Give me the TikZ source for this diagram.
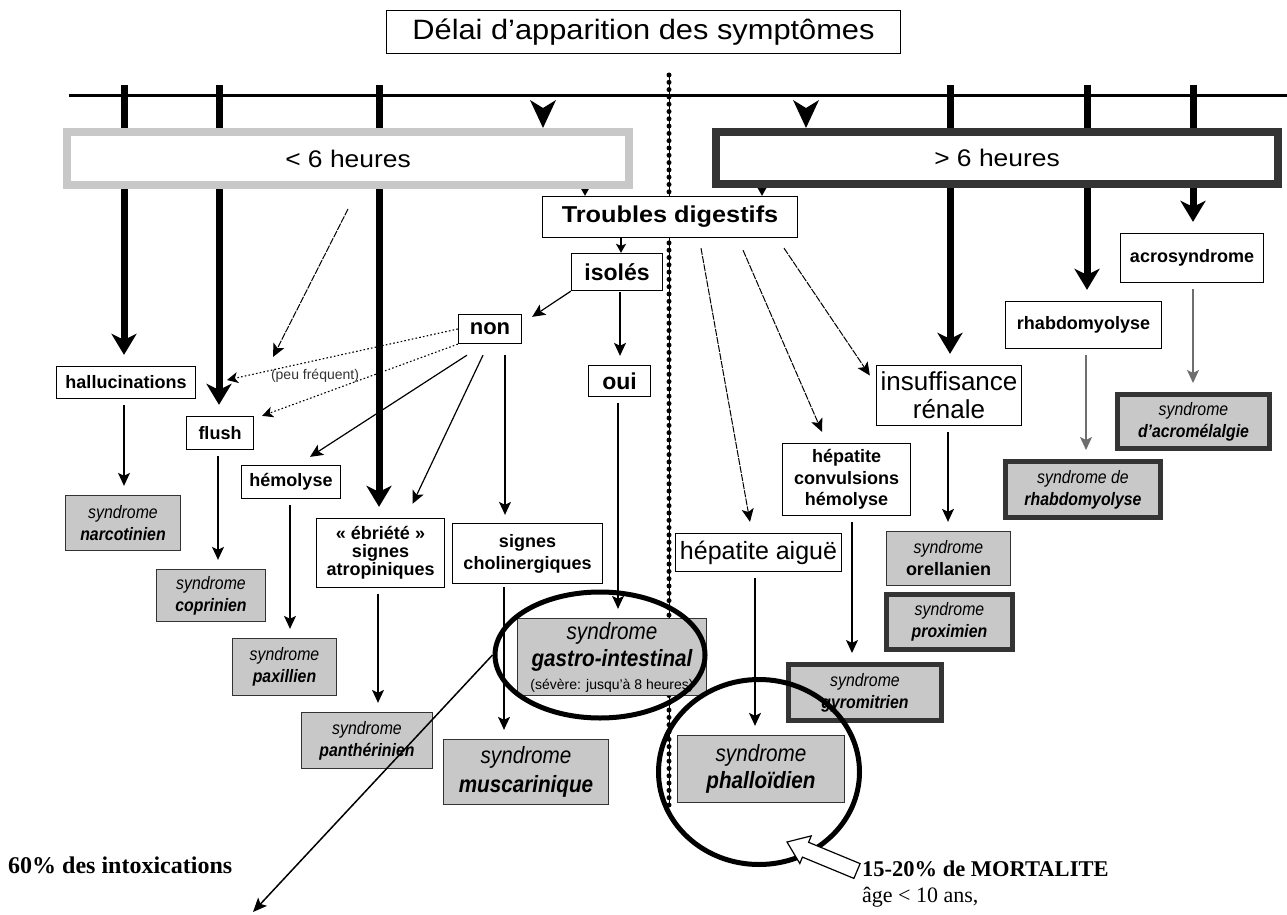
\documentclass[tikz,border=0pt]{standalone}
\usepackage{fontspec}
\setmainfont{Liberation Serif}
\newfontfamily\arialf{Liberation Sans}
\newfontfamily\arialw[FakeStretch=1.1]{Liberation Sans}
\newfontfamily\arialn[FakeStretch=0.88]{Liberation Sans}
\usetikzlibrary{arrows.meta,backgrounds,calc,shapes.geometric}
\definecolor{synfill}{RGB}{200,200,200}
\definecolor{darkedge}{RGB}{52,52,52}
\definecolor{lightedge}{RGB}{200,200,200}
\definecolor{softline}{RGB}{110,110,110}
\newcommand\fsz[2]{\fontsize{#1}{#2}\selectfont}

\begin{document}
\begin{tikzpicture}[x=1pt,y=-1pt,
  wh/.style 2 args={minimum width=#1pt,minimum height=#2pt},
  box/.style={draw,line width=1.3pt,fill=white,inner sep=0pt,align=center,font=\arialf\bfseries\fsz{18}{21}},
  syn/.style={draw=black!80,line width=1.3pt,fill=synfill,inner sep=0pt,align=center,font=\arialn\itshape\fsz{18}{22}},
  syndark/.style={syn,draw=darkedge,line width=5pt},
  period/.style={fill=white,inner sep=0pt,align=center,font=\arialw\fsz{24}{26}},
  conn/.style={line width=1.2pt,-{Stealth[length=13pt,width=12pt,inset=3pt]},shorten <=6pt,shorten >=9pt},
  slant/.style={line width=1.2pt,-{Stealth[length=13pt,width=12pt,inset=3pt]}},
  fine/.style={slant,line width=1pt,dash pattern=on 7pt off 1.2pt},
  rare/.style={line width=1.1pt,dash pattern=on 1.6pt off 2.2pt,-{Stealth[length=11pt,width=11pt,inset=3pt]}},
  bigarrow/.style={line width=7pt,-{Stealth[length=21pt,width=25pt,inset=6pt]},shorten >=11pt},
  tiny/.style={line width=1.5pt,-{Stealth[length=9pt,width=10pt,inset=2pt]}},
  ring/.style={draw,ellipse,line width=5pt,inner sep=0pt},
]
\useasboundingbox (0,0) rectangle (1287,915);

% ---- header ----
\node[box,font=\arialw\fsz{28}{30},wh={514}{43}] (title) at (643.5,32) {Délai d’apparition des symptômes};
\node[period,draw=lightedge,line width=8pt,wh={562}{53}] (lt6) at (348,158.5) {< 6 heures};
\node[period,draw=darkedge,line width=8pt,wh={562}{52}] (gt6) at (997,158) {> 6 heures};

% ---- clinical signs ----
\node[box,font=\arialw\bfseries\fsz{23}{26},wh={255}{41}] (troubles) at (670,217) {Troubles digestifs};
\node[box,font=\arialf\bfseries\fsz{23}{26},wh={91}{37}] (isoles) at (617,272) {isolés};
\node[box,font=\arialf\bfseries\fsz{22}{26},wh={63}{29}] (non) at (490,329) {non};
\node[box,font=\arialf\bfseries\fsz{23}{26},wh={62}{31}] (oui) at (619.5,381) {oui};
\node[box,wh={139}{32}] (halluc) at (126,382.5) {hallucinations};
\node[box,wh={67}{33}] (flush) at (220,433) {flush};
\node[box,wh={99}{33}] (hemolyse) at (291,482) {hémolyse};
\node[box,font=\arialf\bfseries\fsz{18}{18},wh={128}{69}] (ebriete) at (380.5,553) {« ébriété »\\signes\\atropiniques};
\node[box,font=\arialf\bfseries\fsz{18}{22},wh={150}{60}] (cholin) at (527.5,553.5) {signes\\cholinergiques};
\node[box,font=\arialf\fsz{25}{28},wh={166}{38}] (hepaig) at (758.5,552.5) {hépatite aiguë};
\node[box,font=\arialf\bfseries\fsz{18}{21.5},wh={128}{72}] (hepconv) at (846.5,479.5) {hépatite\\convulsions\\hémolyse};
\node[box,font=\arialf\fsz{26}{28},wh={145}{60}] (insuf) at (949,395.5) {insuffisance\\rénale};
\node[box,wh={156}{47}] (rhabdo) at (1083.5,325) {rhabdomyolyse};
\node[box,wh={143}{49}] (acro) at (1192,258) {acrosyndrome};

% ---- syndromes ----
\node[syn,wh={115}{55}] (narcot) at (123,523) {syndrome\\\textbf{narcotinien}};
\node[syn,wh={109}{52}] (coprin) at (211,595.5) {syndrome\\\textbf{coprinien}};
\node[syn,wh={104}{57}] (paxil) at (284.5,667) {syndrome\\\textbf{paxillien}};
\node[syn,wh={131}{56}] (panther) at (367,740.5) {syndrome\\\textbf{panthérinien}};
\node[syn,font=\arialn\itshape\fsz{23.5}{29},wh={165}{65}] (muscar) at (526,772) {syndrome\\\textbf{muscarinique}};
\node[syn,font=\arialn\itshape\fsz{23.5}{27},wh={189}{77}] (gastro) at (612,657)
  {syndrome\\\textbf{gastro-intestinal}\\[-4pt]{\arialf\upshape\fsz{14}{16}(sévère: jusqu’à 8 heures)}};
\node[syn,font=\arialn\itshape\fsz{23.5}{27},wh={167}{67}] (phallo) at (761,769) {syndrome\\\textbf{phalloïdien}};
\node[syn,wh={124}{54}] (orell) at (948.5,558.5) {syndrome\\{\arialf\upshape\bfseries\fsz{18}{22}orellanien}};
\node[syndark,wh={126}{55}] (proxim) at (949.5,622) {syndrome\\\textbf{proximien}};
\node[syndark,wh={153}{56}] (gyrom) at (865,692.5) {syndrome\\\textbf{gyromitrien}};
\node[syndark,wh={155}{56}] (synrhabdo) at (1083,489.5) {syndrome de\\\textbf{rhabdomyolyse}};
\node[syndark,wh={152}{54}] (acromel) at (1193.5,421.5) {syndrome\\\textbf{d’acromélalgie}};

% ---- free ends and anchors on the time line ----
\coordinate (tl) at (69,96);
\coordinate (tr) at (1287,96);
\coordinate (t1) at (124,85);
\coordinate (t2) at (219,85);
\coordinate (t3) at (379,85);
\coordinate (t4) at (950,85);
\coordinate (t5) at (1087,85);
\coordinate (t6) at (1193,85);
\coordinate (dtop) at (669,75);
\coordinate (dbot) at (669,805);
\coordinate (xa) at (585,0);
\coordinate (xb) at (762,0);
\coordinate (xc) at (621,0);
\coordinate (pf) at (227,380);
\coordinate (lf) at (273,357);
\coordinate (p60) at (253,912);

\begin{scope}[on background layer]
  % dotted divider between early and late syndromes
  \draw[line width=0.9pt] (dtop) -- (dbot);
  \draw[line width=5pt,line cap=round,dash pattern=on 0pt off 7.3pt] (dtop) -- (dbot);
  % time line and its branches
  \draw[line width=3pt] (tl) -- (tr);
  \draw[bigarrow] (t1) -- (t1 |- halluc.north);
  \draw[bigarrow] (t2) -- (t2 |- flush.north);
  \draw[bigarrow] (t3) -- (t3 |- ebriete.north);
  \draw[bigarrow] (t4) -- (t4 |- insuf.north);
  \draw[bigarrow] (t5) -- (t5 |- rhabdo.north);
  \draw[bigarrow] (t6) -- (t6 |- acro.north);
  \draw[tiny] (lt6.south -| xa) -- (troubles.north -| xa);
  \draw[tiny] (gt6.south -| xb) -- (troubles.north -| xb);
  \draw[tiny] (troubles.south -| xc) -- (isoles.north -| xc);
\end{scope}

% arrowheads under the time line
\fill (530,100) -- (543,108) -- (556,100) -- (543,128) -- cycle;
\fill (793,100) -- (806,108) -- (819,100) -- (806,128) -- cycle;

% ---- connectors ----
\draw[slant] (isoles.south west) -- ($(non.north east)+(10,3)$);
\draw[conn,shorten <=1pt] ([xshift=3pt]isoles.south) -- ([xshift=3pt]isoles.south |- oui.north);
\draw[slant] ($(non.south)+(-23,11)$) -- ($(hemolyse.north)+(19,-8)$);
\draw[slant] ($(non.south)+(-7,11)$) -- ($(ebriete.north)+(32,-14)$);
\draw[slant] ($(non.south)+(15,11)$) -- ($(cholin.north)+(-22.5,-8)$);
\draw[rare] (non.south west) -- ($(flush.north east)+(8,0)$);
\draw[rare] (non.west) -- (pf);
\node[font=\arialf\fsz{14}{16},text=black!80,inner sep=0pt] (peu) at (315,376) {(peu fréquent)};
\draw[fine] ($(lt6.south)+(0,20)$) -- (lf);

\draw[conn] ([xshift=-2pt]halluc.south) -- ([xshift=-2pt]halluc.south |- narcot.north);
\draw[conn] ([xshift=-2pt]flush.south) -- ([xshift=-2pt]flush.south |- coprin.north);
\draw[conn] ([xshift=-1pt]hemolyse.south) -- ([xshift=-1pt]hemolyse.south |- paxil.north);
\draw[conn] ([xshift=-2.5pt]ebriete.south) -- ([xshift=-2.5pt]ebriete.south |- panther.north);
\draw[conn,shorten <=3pt] ([xshift=-23.5pt]cholin.south) -- ([xshift=-23.5pt]cholin.south |- muscar.north);
\draw[conn] ([xshift=-1.5pt]oui.south) -- ([xshift=-1.5pt]oui.south |- gastro.north);

\draw[fine] ($(troubles.south)+(31,10)$) -- ($(hepaig.north)+(-8.5,-11)$);
\draw[fine] ($(troubles.south)+(73,12)$) -- ($(hepconv.north)+(-24.5,-11)$);
\draw[fine] ($(troubles.south)+(114,10)$) -- ($(insuf.west)+(-6,-20)$);
\draw[conn] ([xshift=-3.5pt]hepaig.south) -- ([xshift=-3.5pt]hepaig.south |- phallo.north);
\draw[conn] ([xshift=5.5pt]hepconv.south) -- ([xshift=5.5pt]hepconv.south |- gyrom.north);
\draw[conn] ([xshift=-1pt]insuf.south) -- ([xshift=-1pt]insuf.south |- orell.north);
\draw[conn,draw=softline] ([xshift=2.5pt]rhabdo.south) -- ([xshift=2.5pt]rhabdo.south |- synrhabdo.north);
\draw[conn,draw=softline] ([xshift=1pt]acro.south) -- ([xshift=1pt]acro.south |- acromel.north);

% ---- highlights ----
\node[ring,minimum width=210pt,minimum height=126pt] (gring) at (600,655) {};
\node[ring,minimum width=201pt,minimum height=185pt] (pring) at (759,772) {};

\node[anchor=west,font=\bfseries\fsz{24}{28},inner sep=0pt] (sixty) at (8,865) {60\% des intoxications};
\draw[line width=1.5pt,-{Stealth[length=14pt,width=12pt,inset=3pt]}] (gring.west) -- (p60);

\node[anchor=west,font=\bfseries\fsz{22.5}{26},inner sep=0pt] (mort) at (862,869) {15-20\% de MORTALITE};
\node[anchor=west,font=\fsz{22}{26},inner sep=0pt] (age) at (862,897) {âge < 10 ans,};
% hollow pointer towards the phalloidian ring
\draw[line width=1.2pt,fill=white] (860.1,863.6) -- (808.6,842.3) -- (811.2,835.9) -- (787,842)
  -- (799.8,863.5) -- (802.4,857.1) -- (853.9,878.4) -- cycle;
\end{tikzpicture}
\end{document}
